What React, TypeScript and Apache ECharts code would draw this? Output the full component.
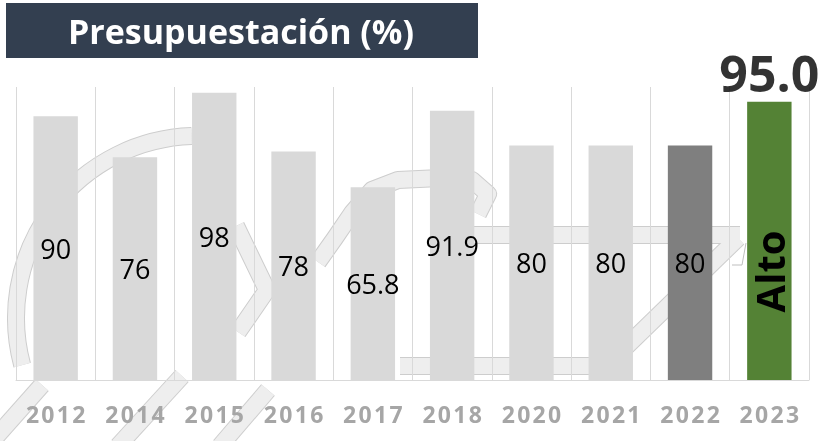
import React, { useEffect, useRef } from 'react';
import * as echarts from 'echarts';

const categories = ['2012', '2014', '2015', '2016', '2017', '2018', '2020', '2021', '2022', '2023'];
const values = [90, 76, 98, 78, 65.8, 91.9, 80, 80, 80, 95];
const currentRating = 'Alto';
const currentValueText = '95.0';
const titleText = 'Presupuestación (%)';

const FONT = '"Open Sans", "Noto Sans", "DejaVu Sans", sans-serif';

// faint watermark bands (decoration)
const wmBands: number[][][] = [
  [[318, 262], [335, 238], [352, 213], [372, 190], [398, 180], [440, 178], [472, 180], [488, 194], [478, 214]],
  [[468, 235], [740, 235]],
  [[600, 372], [738, 238]],
  [[400, 366], [592, 366]],
  [[-5, 438], [42, 385]],
  [[118, 446], [182, 376]],
  [[220, 446], [268, 390]],
  [[236, 226], [267, 290], [238, 332]],
];

function bandElements() {
  const els: any[] = [];
  const outline = '#CDCDCD';
  const fill = '#EEEEEE';
  const arcShape = { cx: 198, cy: 318, r: 182, startAngle: (165 * Math.PI) / 180, endAngle: (268 * Math.PI) / 180, clockwise: true };
  els.push({ type: 'arc', z: -10, silent: true, shape: arcShape, style: { fill: null, stroke: outline, lineWidth: 18 } });
  wmBands.forEach((pts) => {
    els.push({ type: 'polyline', z: -10, silent: true, shape: { points: pts }, style: { fill: null, stroke: outline, lineWidth: 18, lineJoin: 'round' } });
  });
  els.push({ type: 'arc', z: -9, silent: true, shape: arcShape, style: { fill: null, stroke: fill, lineWidth: 16 } });
  wmBands.forEach((pts) => {
    els.push({ type: 'polyline', z: -9, silent: true, shape: { points: pts }, style: { fill: null, stroke: fill, lineWidth: 16, lineJoin: 'round' } });
  });
  els.push({ type: 'polyline', z: -9, silent: true, shape: { points: [[732, 265], [742, 265], [746, 243]] }, style: { fill: null, stroke: '#BFBFBF', lineWidth: 1 } });
  return els;
}

export default function App() {
  const ref = useRef<HTMLDivElement>(null);

  useEffect(() => {
    const chart = echarts.init(ref.current!, null, { renderer: 'svg' });
    const last = values.length - 1;
    const data = values.map((v, i) => {
      let color = '#D9D9D9';
      if (i === last) color = '#548235';
      else if (i === last - 1) color = '#7F7F7F';
      const item: any = { value: v, itemStyle: { color } };
      if (i === last) {
        item.label = {
          formatter: currentRating,
          rotate: 90,
          fontSize: 40,
          fontWeight: 'bold',
          position: ['50%', '61%'],
          align: 'center',
          verticalAlign: 'middle',
          color: '#000',
        };
      }
      return item;
    });
    const topData = values.map((v, i) => (i === last ? v : null));

    chart.setOption({
      animation: false,
      textStyle: { fontFamily: FONT },
      grid: { left: 16, right: 24, top: 87, bottom: 61 },
      xAxis: {
        type: 'category',
        data: categories,
        axisLine: { show: true, lineStyle: { color: '#D9D9D9', width: 1 } },
        axisTick: { show: false },
        splitLine: { show: true, lineStyle: { color: '#D9D9D9', width: 1 } },
        axisLabel: {
          color: '#A6A6A6',
          fontWeight: 'bold',
          fontSize: 23,
          fontFamily: FONT,
          margin: 22,
          interval: 0,
          formatter: (s: string) => s.split('').join('\u200A'),
        },
      },
      yAxis: { type: 'value', min: 0, max: 100, show: false, splitLine: { show: false } },
      graphic: [
        ...bandElements(),
        { type: 'rect', z: 10, shape: { x: 6, y: 3, width: 472, height: 55 }, style: { fill: '#333F50' } },
        {
          type: 'text',
          z: 11,
          x: 241,
          y: 31,
          style: { text: titleText, fill: '#FFFFFF', font: `bold 34px ${FONT}`, textAlign: 'center', textVerticalAlign: 'middle' },
        },
      ],
      series: [
        {
          type: 'bar',
          data,
          barWidth: '56%',
          z: 2,
          label: {
            show: true,
            position: 'inside',
            color: '#000',
            fontSize: 27,
            fontFamily: FONT,
            formatter: (p: any) => String(p.value),
          },
        },
        {
          type: 'scatter',
          data: topData,
          symbolSize: 0,
          silent: true,
          label: {
            show: true,
            position: 'top',
            distance: 4,
            formatter: currentValueText,
            color: '#000',
            fontSize: 50,
            fontWeight: 'bold',
            fontFamily: FONT,
          },
        },
      ],
    });
    return () => chart.dispose();
  }, []);

  return <div ref={ref} style={{ position: 'fixed', left: 0, top: 0, width: 833, height: 441 }} />;
}
